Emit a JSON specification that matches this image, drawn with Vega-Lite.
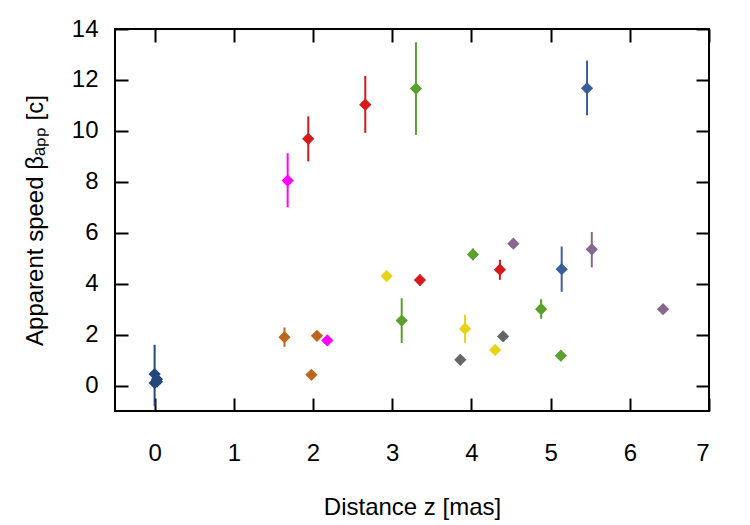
{
  "$schema": "https://vega.github.io/schema/vega-lite/v6.json",
  "width": 594,
  "height": 382,
  "autosize": {"type": "none"},
  "padding": {"left": 115, "top": 29, "right": 41, "bottom": 114},
  "background": "white",
  "config": {
    "font": "Liberation Sans",
    "view": {"stroke": "black", "strokeWidth": 2},
    "axis": {
      "domain": false,
      "grid": false,
      "tickColor": "black",
      "tickWidth": 2,
      "tickSize": -13,
      "labelFont": "Liberation Sans",
      "labelFontSize": 24,
      "labelColor": "black",
      "titleFont": "Liberation Sans",
      "titleFontSize": 24,
      "titleFontWeight": "normal",
      "titleColor": "black"
    }
  },
  "data": {
    "values": [
      {"z": 0.0, "beta": 0.45, "lo": -0.8, "hi": 1.6, "source": "s1"},
      {"z": 0.03, "beta": 0.25, "lo": 0.25, "hi": 0.25, "source": "s1"},
      {"z": 0.0, "beta": 0.1, "lo": 0.1, "hi": 0.1, "source": "s1"},
      {"z": 0.03, "beta": 0.15, "lo": 0.15, "hi": 0.15, "source": "s1"},
      {"z": 1.64, "beta": 1.9, "lo": 1.52, "hi": 2.28, "source": "s2"},
      {"z": 2.05, "beta": 1.95, "lo": 1.85, "hi": 2.05, "source": "s2"},
      {"z": 1.98, "beta": 0.42, "lo": 0.42, "hi": 0.42, "source": "s2"},
      {"z": 1.68, "beta": 8.05, "lo": 7.0, "hi": 9.12, "source": "s3"},
      {"z": 2.18, "beta": 1.77, "lo": 1.67, "hi": 1.87, "source": "s3"},
      {"z": 1.94, "beta": 9.69, "lo": 8.8, "hi": 10.57, "source": "s4"},
      {"z": 2.66, "beta": 11.03, "lo": 9.92, "hi": 12.16, "source": "s4"},
      {"z": 3.35, "beta": 4.14, "lo": 3.92, "hi": 4.36, "source": "s4"},
      {"z": 4.36, "beta": 4.55, "lo": 4.15, "hi": 4.94, "source": "s4"},
      {"z": 3.3, "beta": 11.66, "lo": 9.84, "hi": 13.48, "source": "s5"},
      {"z": 3.12, "beta": 2.55, "lo": 1.67, "hi": 3.43, "source": "s5"},
      {"z": 4.02, "beta": 5.15, "lo": 4.92, "hi": 5.38, "source": "s5"},
      {"z": 4.88, "beta": 3.0, "lo": 2.62, "hi": 3.39, "source": "s5"},
      {"z": 5.13, "beta": 1.17, "lo": 1.07, "hi": 1.27, "source": "s5"},
      {"z": 2.93, "beta": 4.3, "lo": 4.15, "hi": 4.45, "source": "s6"},
      {"z": 3.92, "beta": 2.23, "lo": 1.67, "hi": 2.78, "source": "s6"},
      {"z": 4.3, "beta": 1.4, "lo": 1.4, "hi": 1.4, "source": "s6"},
      {"z": 3.86, "beta": 1.01, "lo": 1.01, "hi": 1.01, "source": "s7"},
      {"z": 4.4, "beta": 1.93, "lo": 1.93, "hi": 1.93, "source": "s7"},
      {"z": 4.53, "beta": 5.57, "lo": 5.45, "hi": 5.69, "source": "s8"},
      {"z": 5.52, "beta": 5.35, "lo": 4.64, "hi": 6.03, "source": "s8"},
      {"z": 6.42, "beta": 3.0, "lo": 3.0, "hi": 3.0, "source": "s8"},
      {"z": 5.46, "beta": 11.67, "lo": 10.61, "hi": 12.76, "source": "s9"},
      {"z": 5.14, "beta": 4.57, "lo": 3.68, "hi": 5.46, "source": "s9"}
    ]
  },
  "resolve": {"axis": {"x": "independent", "y": "independent"}},
  "layer": [
    {
      "mark": {"type": "rule", "strokeWidth": 2},
      "encoding": {
        "x": {
          "field": "z", "type": "quantitative",
          "scale": {"domain": [-0.5, 7], "nice": false, "zero": false},
          "axis": {"orient": "bottom", "values": [0, 1, 2, 3, 4, 5, 6, 7], "title": "Distance z [mas]", "labelPadding": 43, "titlePadding": 30}
        },
        "y": {
          "field": "lo", "type": "quantitative",
          "scale": {"domain": [-1, 14], "nice": false, "zero": false},
          "axis": {"orient": "left", "values": [0, 2, 4, 6, 8, 10, 12, 14], "title": "Apparent speed βₐₚₚ [c]", "labelPadding": 30, "titlePadding": 24}
        },
        "y2": {"field": "hi"},
        "color": {
          "field": "source", "type": "nominal", "legend": null,
          "scale": {
            "domain": ["s1", "s2", "s3", "s4", "s5", "s6", "s7", "s8", "s9"],
            "range": ["#24487b", "#c0651c", "#ff00ff", "#d7191c", "#5aa02c", "#e8d318", "#666666", "#85678f", "#3a5f9b"]
          }
        }
      }
    },
    {
      "mark": {"type": "point", "shape": "diamond", "filled": true, "size": 150, "opacity": 1},
      "encoding": {
        "x": {
          "field": "z", "type": "quantitative",
          "axis": {"orient": "top", "values": [0, 1, 2, 3, 4, 5, 6, 7], "labels": false, "title": null}
        },
        "y": {
          "field": "beta", "type": "quantitative",
          "axis": {"orient": "right", "values": [0, 2, 4, 6, 8, 10, 12, 14], "labels": false, "title": null}
        },
        "color": {"field": "source", "type": "nominal", "legend": null}
      }
    }
  ]
}
